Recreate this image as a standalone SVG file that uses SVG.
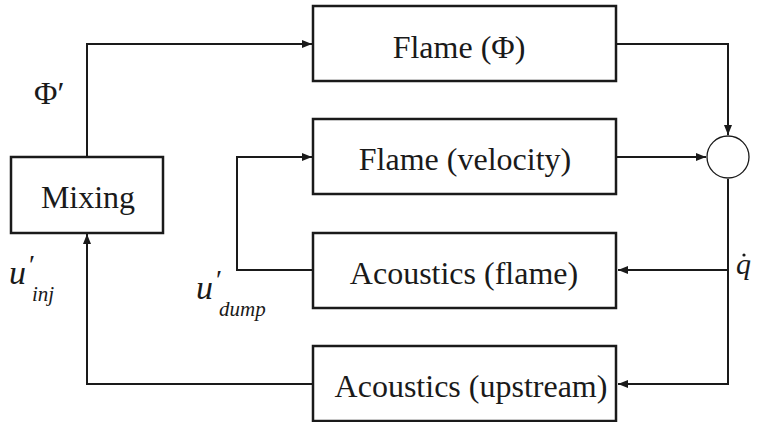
<svg xmlns="http://www.w3.org/2000/svg" width="760" height="422" viewBox="0 0 760 422">
<style>
.box{fill:#fff;stroke:#1a1a1a;stroke-width:2.5}
.lbl{font-family:'Liberation Serif','Times New Roman','DejaVu Serif','Noto Serif',Times,serif;font-size:32px;fill:#1a1a1a;text-anchor:middle}
.math{font-family:'Liberation Serif','Times New Roman','DejaVu Serif','Noto Serif',Times,serif;font-style:italic;fill:#1a1a1a}
.up{font-family:'Liberation Serif','Times New Roman','DejaVu Serif','Noto Serif',Times,serif;fill:#1a1a1a}
.ln{fill:none;stroke:#1a1a1a;stroke-width:2}
</style>
<defs>
<marker id="ah" viewBox="0 0 10 8" refX="10" refY="4" markerWidth="10" markerHeight="8" markerUnits="userSpaceOnUse" orient="auto">
<path d="M0,0 L10,4 L0,8 Z" fill="#1a1a1a"/>
</marker>
</defs>
<g id="connectors">
<path class="ln" d="M87,157 V44 H312" marker-end="url(#ah)"/>
<path class="ln" d="M617,44 H728 V135" marker-end="url(#ah)"/>
<path class="ln" d="M617,157 H706" marker-end="url(#ah)"/>
<path class="ln" d="M728,179 V384 H618" marker-end="url(#ah)"/>
<path class="ln" d="M728,270 H618" marker-end="url(#ah)"/>
<path class="ln" d="M312,270 H237 V157 H312" marker-end="url(#ah)"/>
<path class="ln" d="M312,384 H87 V234" marker-end="url(#ah)"/>
</g>
<g id="flame-phi"><rect class="box" x="313" y="6" width="303" height="75"/><text class="lbl" x="459" y="58">Flame (Φ)</text></g>
<g id="flame-velocity"><rect class="box" x="313" y="119" width="303" height="75"/><text class="lbl" x="465" y="170">Flame (velocity)</text></g>
<g id="acoustics-flame"><rect class="box" x="313" y="233" width="303" height="75"/><text class="lbl" x="464" y="284">Acoustics (flame)</text></g>
<g id="acoustics-upstream"><rect class="box" x="313" y="346" width="303" height="75"/><text class="lbl" x="471" y="397">Acoustics (upstream)</text></g>
<g id="mixing"><rect class="box" x="11" y="157" width="152" height="76"/><text class="lbl" x="88" y="208">Mixing</text></g>
<g id="sum"><circle cx="728" cy="157" r="21" fill="#fff" stroke="#1a1a1a" stroke-width="1.3"/></g>
<g id="labels">
<text class="up" x="34" y="104" font-size="32">Φ′</text>
<text class="math" x="9" y="284" font-size="34">u</text>
<text class="up" x="29" y="274" font-size="28">′</text>
<text class="math" x="32" y="301" font-size="21">inj</text>
<text class="math" x="196" y="299" font-size="34">u</text>
<text class="up" x="216" y="289" font-size="28">′</text>
<text class="math" x="219" y="316" font-size="21">dump</text>
<text class="math" x="736" y="274" font-size="30">q</text>
<circle cx="744" cy="255" r="1.6" fill="#1a1a1a"/>
</g>
</svg>
